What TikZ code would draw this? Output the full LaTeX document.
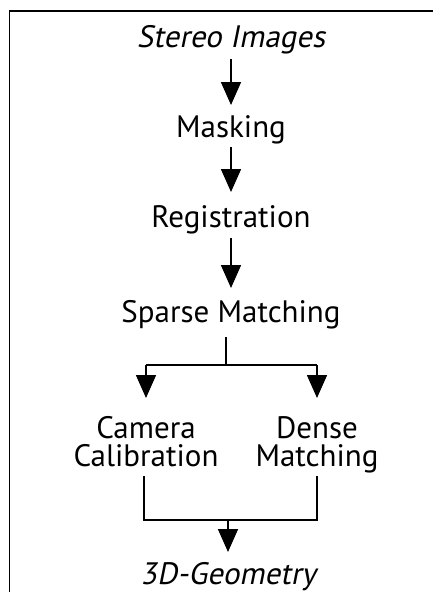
\documentclass[tikz,border=0pt]{standalone}
\usepackage{fontspec}
\setmainfont{PT Sans}
\newfontfamily\oblfont[FakeSlant=0.2]{PT Sans}
\usetikzlibrary{arrows.meta}
\begin{document}
\begin{tikzpicture}[x=1pt,y=-1pt,
  lbl/.style={anchor=base,inner sep=0pt,font=\fontsize{31}{28}\selectfont},
  lbl2/.style={anchor=base,inner sep=0pt,align=center,font=\fontsize{31}{28}\selectfont},
  conn/.style={line width=1.6pt},
  arr/.style={conn,-{Triangle[width=20pt,length=23pt]}},
  frame/.style={line width=1.5pt}]
\useasboundingbox (0,0) rectangle (433,592);
\draw[frame] (9.5,592) -- (9.5,11) -- (433,11);
% nodes
\node[lbl] (stereo) at (231,47) {\oblfont Stereo Images};
\node[lbl] (mask) at (231,137) {Masking};
\node[lbl] (reg) at (231,227) {Registration};
\node[lbl] (sparse) at (231,322) {Sparse Matching};
\node[lbl2,anchor=north] (cam) at (146,416) {Camera\\Calibration};
\node[lbl2,anchor=north] (dense) at (317,416) {Dense\\Matching};
\node[lbl] (geo) at (228,584) {\oblfont 3D-Geometry};
% coordinates
\coordinate (a1s) at (231,59);  \coordinate (a1e) at (231,105);
\coordinate (a2s) at (231,147); \coordinate (a2e) at (231,192);
\coordinate (a3s) at (231,238); \coordinate (a3e) at (231,288);
\coordinate (bs) at (226,337); \coordinate (bj) at (226,365);
\coordinate (bl) at (146,365); \coordinate (br) at (317,365);
\coordinate (blt) at (146,398); \coordinate (brt) at (317,398);
\coordinate (ml) at (144,476); \coordinate (mr) at (317,476);
\coordinate (mlb) at (144,520); \coordinate (mrb) at (317,520);
\coordinate (mj) at (228,520); \coordinate (mt) at (228,552);
% connectors
\draw[arr] (a1s) -- (a1e);
\draw[arr] (a2s) -- (a2e);
\draw[arr] (a3s) -- (a3e);
\draw[conn] (bs) -- (bj);
\draw[conn] (bl) -- (br);
\draw[arr] (bl) -- (blt);
\draw[arr] (br) -- (brt);
\draw[conn] (ml) -- (mlb) -- (mrb) -- (mr);
\draw[arr] (mj) -- (mt);
\end{tikzpicture}
\end{document}
